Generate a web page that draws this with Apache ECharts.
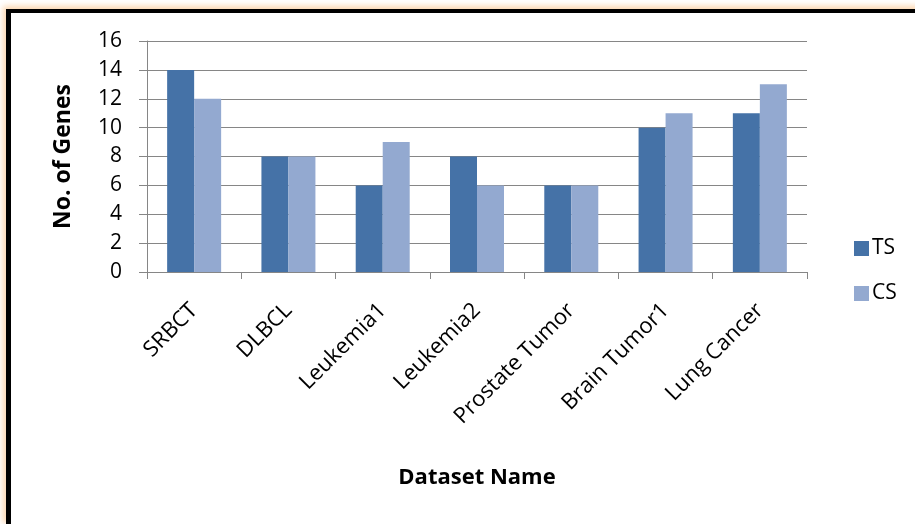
<!DOCTYPE html>
<html>
<head>
<meta charset="utf-8">
<script src="https://cdn.jsdelivr.net/npm/echarts@6/dist/echarts.min.js"></script>
<style>
  html, body { margin: 0; padding: 0; background: #fff; overflow: hidden; }
  #frame {
    position: absolute; left: 6px; top: 9px; width: 1000px; height: 511px;
    border-left: 5px solid #000; border-top: 4px solid #000; border-bottom: 2px solid #5a5a5a;
    box-shadow: -3px -3px 6px rgba(250, 180, 110, 0.55);
    background: #fff;
  }
  #chart { position: absolute; left: 0; top: 0; width: 915px; height: 524px; }
</style>
</head>
<body>
<div id="frame"></div>
<div id="chart"></div>
<script>
// Number of selected genes per dataset, for the two selection methods
const datasets = ['SRBCT', 'DLBCL', 'Leukemia1', 'Leukemia2', 'Prostate Tumor', 'Brain Tumor1', 'Lung Cancer'];
const tsGenes = [14, 8, 6, 8, 6, 10, 11];
const csGenes = [12, 8, 9, 6, 6, 11, 13];
const seriesNames = ['TS', 'CS'];

const FONT = '"Open Sans", Lato, sans-serif';
const chart = echarts.init(document.getElementById('chart'), null, { renderer: 'canvas' });

chart.setOption({
  backgroundColor: 'transparent',
  animation: false,
  textStyle: { fontFamily: FONT },
  grid: { left: 147, top: 41, width: 660, height: 231, containLabel: false },
  legend: {
    orient: 'vertical',
    left: 849, top: 233,
    itemWidth: 15, itemHeight: 15, itemGap: 24,
    icon: 'rect',
    data: seriesNames,
    textStyle: { fontSize: 21, color: '#000', fontFamily: FONT, padding: [0, 0, 0, -2] }
  },
  xAxis: {
    type: 'category',
    data: datasets,
    name: 'Dataset Name',
    nameLocation: 'middle',
    nameGap: 195,
    nameTextStyle: { fontSize: 22, fontWeight: 'bold', color: '#000', fontFamily: FONT },
    axisLine: { lineStyle: { color: '#868686', width: 1 } },
    axisTick: { show: true, length: 7, lineStyle: { color: '#868686' } },
    axisLabel: { rotate: 45, fontSize: 22, color: '#000', margin: 35, fontFamily: FONT, interval: 0 }
  },
  yAxis: {
    type: 'value',
    min: 0, max: 16, interval: 2,
    name: 'No. of Genes',
    nameLocation: 'middle',
    nameGap: 72,
    nameTextStyle: { fontSize: 23, fontWeight: 'bold', color: '#000', fontFamily: FONT },
    axisLine: { show: true, lineStyle: { color: '#868686', width: 1 } },
    axisTick: { show: true, length: 8, lineStyle: { color: '#868686' } },
    axisLabel: { fontSize: 21, color: '#000', margin: 25, fontFamily: FONT },
    splitLine: { show: true, lineStyle: { color: '#868686', width: 1 } }
  },
  series: [
    { name: 'TS', type: 'bar', data: tsGenes, barWidth: 27, barGap: '0%',
      itemStyle: { color: '#4572A7' } },
    { name: 'CS', type: 'bar', data: csGenes, barWidth: 27, barGap: '0%',
      itemStyle: { color: '#93A9D0' } }
  ]
});
</script>
</body>
</html>
